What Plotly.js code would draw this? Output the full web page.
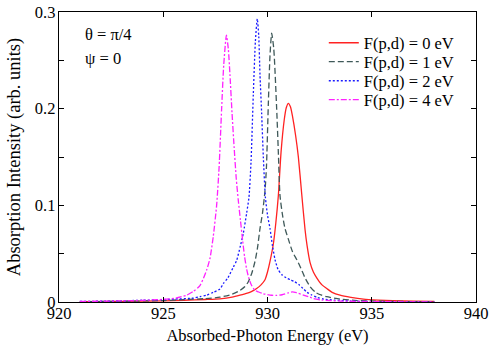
<!DOCTYPE html>
<html>
<head>
<meta charset="utf-8">
<script src="https://cdn.plot.ly/plotly-3.0.1.min.js"></script>
<style>
  html, body { margin: 0; padding: 0; background: #fff; }
  #chart { width: 491px; height: 345px; }
</style>
</head>
<body>
<div id="chart"></div>
<script>
// values (energy in eV, intensity in arb. units)
const seriesNames = ["F(p,d) = 0 eV", "F(p,d) = 1 eV", "F(p,d) = 2 eV", "F(p,d) = 4 eV"];

const energy0 = [921, 923, 925, 926, 927, 927.72, 928.3, 928.68, 928.92, 929.2, 929.48, 929.7, 929.88, 930.0, 930.12, 930.28, 930.4, 930.52, 930.65, 930.8, 930.9, 931.0, 931.1, 931.2, 931.35, 931.48, 931.64, 931.8, 931.9, 932.04, 932.2, 932.36, 932.6, 932.84, 933.1, 933.48, 934.0, 934.6, 935.3, 936.0, 937.0, 938.0];
const intensity0 = [0.0003, 0.0006, 0.0012, 0.0018, 0.0026, 0.0033, 0.005, 0.007, 0.0085, 0.0105, 0.014, 0.018, 0.023, 0.031, 0.042, 0.060, 0.082, 0.110, 0.155, 0.188, 0.201, 0.2055, 0.202, 0.192, 0.172, 0.150, 0.112, 0.075, 0.058, 0.041, 0.031, 0.025, 0.018, 0.014, 0.010, 0.007, 0.0048, 0.003, 0.002, 0.0013, 0.0008, 0.0005];

const energy1 = [921, 923, 925, 926, 927, 927.72, 928.3, 928.68, 928.92, 929.08, 929.25, 929.4, 929.52, 929.64, 929.76, 929.88, 929.95, 930.04, 930.12, 930.2, 930.3, 930.44, 930.52, 930.6, 930.72, 930.84, 931.0, 931.2, 931.4, 931.6, 931.8, 932.04, 932.3, 932.6, 932.84, 933.48, 934.3, 935.5, 937.0, 938.0];
const intensity1 = [0.0003, 0.0007, 0.0015, 0.0025, 0.0035, 0.005, 0.008, 0.012, 0.016, 0.021, 0.030, 0.042, 0.056, 0.076, 0.092, 0.115, 0.140, 0.205, 0.255, 0.278, 0.262, 0.200, 0.155, 0.110, 0.090, 0.076, 0.065, 0.052, 0.044, 0.035, 0.025, 0.016, 0.010, 0.007, 0.0055, 0.003, 0.0015, 0.0008, 0.0004, 0.0003];

const energy2 = [921, 923, 924, 925, 925.5, 926.44, 926.76, 927.08, 927.4, 927.72, 927.88, 928.1, 928.36, 928.52, 928.7, 928.84, 929.0, 929.11, 929.21, 929.32, 929.42, 929.51, 929.58, 929.64, 929.72, 929.8, 929.9, 930.0, 930.12, 930.24, 930.36, 930.5, 930.7, 930.9, 931.1, 931.3, 931.5, 931.7, 931.9, 932.1, 932.4, 932.7, 933.2, 934.0, 935.0, 937.0, 938.0];
const intensity2 = [0.0005, 0.0012, 0.0018, 0.0025, 0.003, 0.004, 0.0055, 0.007, 0.010, 0.0135, 0.019, 0.025, 0.036, 0.043, 0.058, 0.071, 0.092, 0.108, 0.145, 0.215, 0.270, 0.293, 0.275, 0.235, 0.195, 0.150, 0.108, 0.090, 0.076, 0.058, 0.044, 0.034, 0.028, 0.025, 0.023, 0.021, 0.018, 0.014, 0.010, 0.0075, 0.0045, 0.003, 0.002, 0.001, 0.0005, 0.0002, 0.0002];

const energy4 = [921, 922, 923, 924, 924.84, 925.16, 925.6, 926.12, 926.44, 926.76, 927.08, 927.24, 927.4, 927.56, 927.68, 927.8, 927.9, 928.03, 928.12, 928.2, 928.3, 928.4, 928.5, 928.6, 928.7, 928.8, 928.9, 929.0, 929.1, 929.24, 929.4, 929.56, 929.8, 930.2, 930.44, 930.7, 931.0, 931.2, 931.4, 931.72, 932.04, 932.2, 932.6, 933.5, 935.0, 937.0, 938.0];
const intensity4 = [0.0005, 0.0008, 0.0012, 0.0017, 0.0025, 0.003, 0.004, 0.007, 0.011, 0.017, 0.033, 0.045, 0.068, 0.100, 0.140, 0.200, 0.245, 0.276, 0.262, 0.235, 0.195, 0.160, 0.128, 0.105, 0.085, 0.065, 0.047, 0.034, 0.025, 0.017, 0.012, 0.0105, 0.0085, 0.007, 0.0068, 0.0075, 0.0095, 0.0105, 0.0095, 0.0072, 0.005, 0.0035, 0.002, 0.001, 0.0004, 0.0002, 0.0002];

const xTicks = [920, 925, 930, 935, 940];
const yTicks = [0, 0.1, 0.2, 0.3];

const serif = "'Liberation Serif', 'Times New Roman', serif";
const fs = 16.5;

function curve(x, y, name, color, dash, legendId) {
    return {
        x: x,
        y: y,
        name: name,
        type: 'scatter',
        mode: 'lines',
        line: { color: color, width: 1.3, dash: dash, shape: 'spline', smoothing: 0.6 },
        legend: legendId
    };
}

const data = [
    curve(energy0, intensity0, seriesNames[0], '#ff2222', 'solid', 'legend'),
    curve(energy1, intensity1, seriesNames[1], '#3f5959', '6px,3px', 'legend2'),
    curve(energy2, intensity2, seriesNames[2], '#1a1aff', '2px,2px', 'legend3'),
    curve(energy4, intensity4, seriesNames[3], '#ff22ff', '6px,2px,2px,2px', 'legend4')
];

// one legend per entry so the rows can sit as tightly as in the figure
function legendAt(y) {
    return {
        x: 0.635, xanchor: 'left',
        y: y, yanchor: 'middle',
        bgcolor: 'rgba(0,0,0,0)',
        borderwidth: 0,
        font: { family: serif, size: fs, color: '#000' }
    };
}

const axisBase = {
    showgrid: false,
    zeroline: false,
    showline: true,
    linecolor: '#000',
    linewidth: 1.3,
    mirror: 'ticks',
    ticks: 'inside',
    ticklen: 5,
    tickwidth: 1,
    tickcolor: '#000',
    tickfont: { family: serif, size: fs, color: '#000' }
};

const layout = {
    width: 491,
    height: 345,
    margin: { l: 59, r: 15, t: 12, b: 43 },
    paper_bgcolor: '#fff',
    plot_bgcolor: '#fff',
    font: { family: serif, size: fs, color: '#000' },
    showlegend: true,
    legend: legendAt(0.893),
    legend2: legendAt(0.828),
    legend3: legendAt(0.762),
    legend4: legendAt(0.697),
    xaxis: Object.assign({}, axisBase, {
        range: [920, 940],
        tickvals: xTicks,
        ticktext: xTicks.map(String),
        ticklabelstandoff: -4,
        title: { text: 'Absorbed-Photon Energy (eV)', font: { family: serif, size: fs }, standoff: 7 }
    }),
    yaxis: Object.assign({}, axisBase, {
        range: [0, 0.3],
        tickvals: yTicks,
        ticktext: yTicks.map(String),
        ticklabelstandoff: -1,
        minor: { tickvals: [0.05, 0.15, 0.25], ticks: 'inside', ticklen: 5, tickcolor: '#000' },
        title: { text: 'Absorption Intensity (arb. units)', font: { family: serif, size: 18.5 }, standoff: 9 }
    }),
    annotations: [
        { xref: 'paper', yref: 'paper', x: 0.057, y: 0.921, xanchor: 'left', yanchor: 'middle',
          text: 'θ = π/4', showarrow: false, font: { family: serif, size: fs } },
        { xref: 'paper', yref: 'paper', x: 0.057, y: 0.841, xanchor: 'left', yanchor: 'middle',
          text: 'ψ = 0', showarrow: false, font: { family: serif, size: fs } }
    ]
};

Plotly.newPlot('chart', data, layout, { displayModeBar: false, staticPlot: true });
</script>
</body>
</html>
